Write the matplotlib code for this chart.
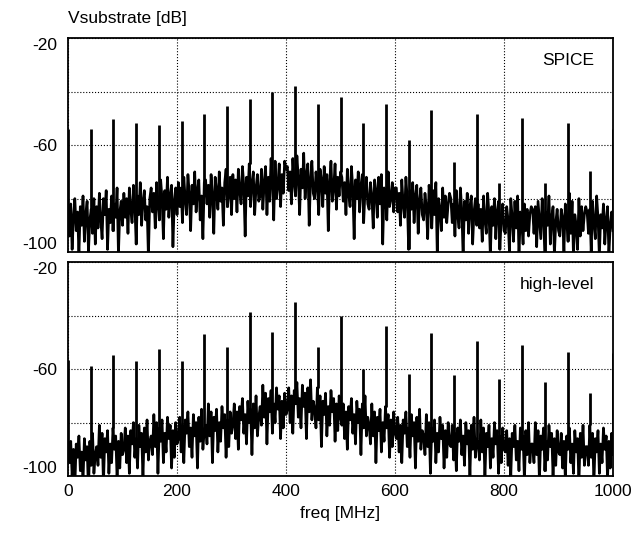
import numpy as np
import matplotlib.pyplot as plt

plt.rcParams['font.family'] = ['Liberation Sans', 'DejaVu Sans']
plt.rcParams['axes.unicode_minus'] = False

# noise floor, read every 2.5 MHz (0..1000)
noise_freq = np.arange(0, 1000.1, 2.5)

noise_spice = [
    -84,
    -94, -82, -99, -87, -80, -92, -85, -101, -83, -90, -79, -96, -86, -81, -100, -88, -84, -93, -80, -97,
    -83, -91, -78, -88, -95, -80, -86, -77, -99, -84, -89, -79, -92, -82, -87, -76, -101, -85, -81, -90,
    -78, -87, -80, -93, -76, -84, -89, -75, -82, -97, -79, -86, -74, -90, -81, -77, -88, -83, -102, -80,
    -76, -85, -78, -91, -74, -82, -88, -73, -80, -95, -77, -84, -72, -87, -79, -75, -98, -81, -76, -86,
    -74, -83, -76, -89, -72, -80, -86, -71, -78, -92, -75, -82, -70, -85, -77, -73, -88, -79, -95, -74,
    -73, -82, -75, -87, -71, -79, -93, -72, -77, -84, -70, -81, -76, -90, -74, -69, -83, -78, -72, -86,
    -71, -80, -73, -85, -69, -77, -82, -68, -75, -94, -72, -79, -67, -83, -74, -70, -86, -76, -71, -81,
    -79, -69, -84, -74, -68, -86, -72, -81, -65, -73, -88, -66, -80, -75, -67, -83, -71, -78, -66, -69,
    -68, -77, -70, -82, -65, -74, -79, -64, -72, -86, -69, -76, -63, -80, -71, -67, -90, -73, -66, -78,
    -80, -70, -75, -86, -69, -73, -83, -68, -78, -71, -92, -74, -66, -81, -76, -67, -84, -72, -79, -70,
    -72, -81, -74, -86, -69, -78, -83, -68, -76, -95, -73, -80, -70, -85, -75, -71, -89, -77, -72, -82,
    -84, -74, -79, -91, -73, -77, -87, -72, -82, -71, -97, -76, -78, -88, -70, -83, -80, -74, -85, -76,
    -76, -85, -78, -90, -73, -82, -87, -72, -80, -99, -77, -84, -74, -89, -79, -75, -93, -81, -76, -86,
    -88, -78, -83, -95, -75, -81, -91, -77, -86, -74, -101, -80, -84, -92, -76, -87, -79, -89, -82, -78,
    -80, -89, -82, -94, -77, -86, -91, -76, -84, -102, -81, -88, -78, -93, -83, -79, -97, -85, -80, -90,
    -82, -91, -84, -96, -79, -88, -93, -78, -86, -102, -83, -90, -80, -95, -85, -81, -99, -87, -82, -92,
    -93, -83, -88, -100, -80, -87, -96, -81, -91, -79, -102, -85, -89, -97, -82, -92, -84, -94, -86, -83,
    -84, -93, -83, -98, -81, -88, -95, -80, -86, -102, -85, -90, -79, -97, -87, -83, -101, -89, -84, -92,
    -94, -84, -87, -100, -82, -88, -96, -78, -93, -81, -102, -86, -90, -99, -80, -94, -83, -92, -86, -83,
    -85, -93, -84, -100, -81, -89, -95, -79, -87, -102, -86, -91, -82, -97, -88, -83, -101, -90, -85, -92,
]

noise_high = [
    -90,
    -95, -87, -100, -90, -104, -88, -93, -85, -98, -91, -102, -86, -94, -89, -106, -87, -96, -84, -99, -92,
    -89, -96, -81, -93, -84, -103, -86, -91, -83, -99, -88, -95, -82, -90, -85, -101, -87, -97, -84, -92,
    -90, -82, -95, -85, -99, -83, -88, -80, -93, -86, -97, -81, -89, -84, -101, -82, -91, -79, -94, -87,
    -85, -92, -77, -89, -80, -99, -82, -87, -79, -95, -84, -91, -78, -86, -81, -97, -83, -93, -80, -88,
    -86, -78, -91, -81, -95, -79, -84, -76, -89, -82, -93, -77, -85, -80, -97, -78, -87, -75, -90, -83,
    -81, -88, -73, -85, -76, -95, -78, -83, -75, -91, -80, -87, -74, -82, -77, -93, -79, -89, -76, -84,
    -81, -73, -86, -76, -90, -74, -79, -71, -84, -77, -88, -72, -80, -75, -92, -73, -82, -70, -85, -78,
    -74, -81, -66, -78, -69, -88, -71, -76, -68, -84, -73, -80, -67, -75, -70, -86, -72, -82, -69, -77,
    -75, -67, -80, -70, -84, -68, -73, -65, -78, -71, -82, -66, -74, -69, -86, -67, -76, -64, -79, -72,
    -75, -82, -67, -79, -70, -89, -72, -77, -69, -85, -74, -81, -68, -76, -71, -87, -73, -83, -70, -78,
    -81, -73, -86, -76, -90, -74, -79, -71, -84, -77, -88, -72, -80, -75, -92, -73, -82, -70, -85, -78,
    -81, -88, -73, -85, -76, -95, -78, -83, -75, -91, -80, -87, -74, -82, -77, -93, -79, -89, -76, -84,
    -86, -78, -91, -81, -95, -79, -84, -76, -89, -82, -93, -77, -85, -80, -97, -78, -87, -75, -90, -83,
    -85, -92, -77, -89, -80, -99, -82, -87, -79, -95, -84, -91, -78, -86, -81, -97, -83, -93, -80, -88,
    -89, -81, -94, -84, -98, -82, -87, -79, -92, -85, -96, -80, -88, -83, -100, -81, -90, -78, -93, -86,
    -87, -94, -79, -91, -82, -101, -84, -89, -81, -97, -86, -93, -80, -88, -83, -99, -85, -95, -82, -90,
    -91, -83, -96, -86, -100, -84, -89, -81, -94, -87, -98, -82, -90, -85, -102, -83, -92, -80, -95, -88,
    -88, -95, -80, -92, -83, -102, -85, -90, -82, -98, -87, -94, -81, -89, -84, -100, -86, -96, -83, -91,
    -92, -84, -97, -87, -101, -85, -90, -82, -95, -88, -99, -83, -91, -86, -103, -84, -93, -81, -96, -89,
    -89, -96, -81, -93, -84, -103, -86, -91, -83, -99, -88, -95, -82, -90, -85, -101, -87, -97, -84, -92,
]

# harmonics every 1000/24 MHz
spike_freq = [0, 41.7, 83.3, 125, 166.7, 208.3, 250, 291.7, 333.3, 375, 416.7,
              458.3, 500, 541.7, 583.3, 625, 666.7, 708.3, 750, 791.7, 833.3,
              875, 916.7, 958.3, 1000]
spike_spice = [-54, -54, -50.3, -51.8, -52.4, -50.9, -48.2, -45.3, -42.9, -40.2, -38,
               -44.8, -42.2, -51.8, -44.8, -58.1, -46.8, -66.2, -48.5, -74, -49.8,
               -74, -51.8, -69.6, -53.9]
spike_high = [-56.6, -58.9, -54.8, -57, -52.5, -57, -47, -51.9, -38.7, -46.2, -35.1,
              -51.9, -40.2, -60, -43.9, -61.8, -46.7, -62.1, -49.5, -63.8, -51.1,
              -65, -53.5, -68.8, -54]

fig = plt.figure(figsize=(6.37, 5.41), dpi=100)
ax1 = fig.add_axes([0.1068, 0.534, 0.8555, 0.3956])
ax2 = fig.add_axes([0.1068, 0.120, 0.8555, 0.3956])

for ax, noise, spikes, label in [(ax1, noise_spice, spike_spice, 'SPICE'),
                                 (ax2, noise_high, spike_high, 'high-level')]:
    noise = np.array(noise)
    ax.plot(noise_freq, noise, color='black', lw=1.9)
    # spike foot sits on the nearest noise sample
    idx = np.rint(np.array(spike_freq) / 2.5).astype(int)
    ax.vlines(spike_freq, noise[idx], spikes, color='black', lw=2.0)
    ax.set_xlim(0, 1000)
    ax.set_ylim(-100, -20)
    ax.set_yticks([-20, -60, -100])
    ax.set_yticks([-40, -80], minor=True)
    ax.set_xticks([0, 200, 400, 600, 800, 1000])
    ax.grid(True, which='both', color='black', ls=':', lw=0.8)
    ax.tick_params(which='both', direction='in', length=0, labelsize=12.5, pad=8)
    ax.tick_params(axis='x', pad=6)
    for s in ax.spines.values():
        s.set_linewidth(1.3)
    ax.text(0.965, 0.93, label, transform=ax.transAxes, ha='right', va='top',
            fontsize=12.5)
    ticks = ax.yaxis.get_major_ticks()
    ticks[0].label1.set_va('top')
    ticks[-1].label1.set_va('bottom')

ax1.tick_params(axis='x', labelbottom=False)
ax2.set_xlabel('freq [MHz]', fontsize=12.5, labelpad=5)
fig.text(0.1068, 0.966, 'Vsubstrate [dB]', fontsize=12.5, ha='left', va='center')

fig.savefig('out.png', dpi=100)
